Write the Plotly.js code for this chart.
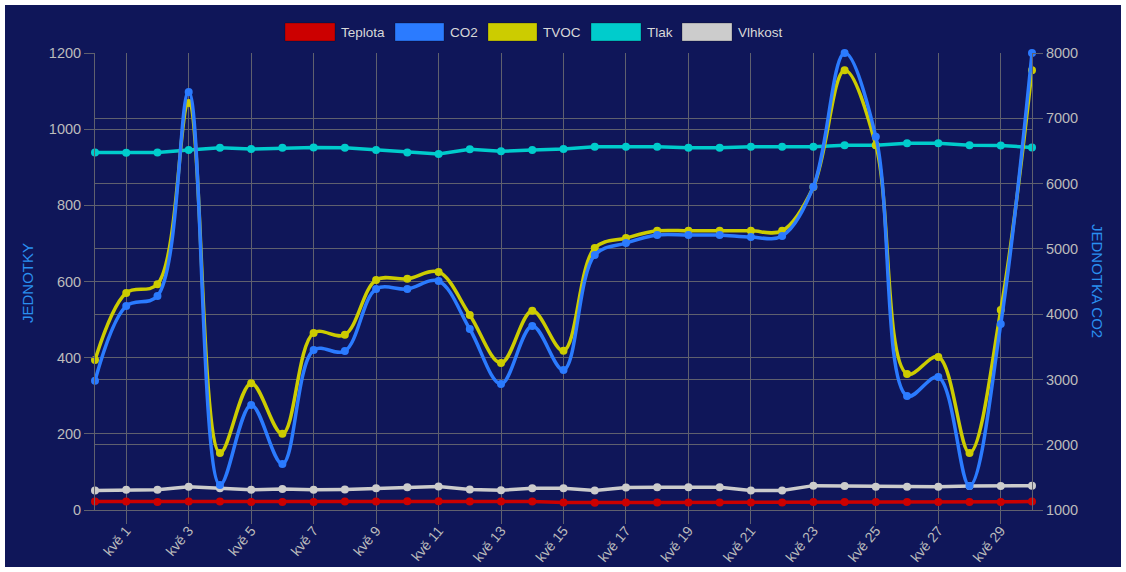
<!DOCTYPE html>
<html>
<head>
<meta charset="utf-8">
<script src="https://cdn.plot.ly/plotly-3.0.1.min.js"></script>
<style>
  html, body { margin: 0; padding: 0; background: #ffffff; }
  #chart { position: absolute; left: 5px; top: 5px; width: 1116px; height: 562px; background: #0f1659; }
</style>
</head>
<body>
<div id="chart"></div>
<script>
// ---- data ----
const categories = ['dub 30','kvě 1','kvě 2','kvě 3','kvě 4','kvě 5','kvě 6','kvě 7','kvě 8','kvě 9','kvě 10',
  'kvě 11','kvě 12','kvě 13','kvě 14','kvě 15','kvě 16','kvě 17','kvě 18','kvě 19','kvě 20',
  'kvě 21','kvě 22','kvě 23','kvě 24','kvě 25','kvě 26','kvě 27','kvě 28','kvě 29','kvě 30'];
const tickLabels = ['kvě 1','kvě 3','kvě 5','kvě 7','kvě 9','kvě 11','kvě 13','kvě 15',
  'kvě 17','kvě 19','kvě 21','kvě 23','kvě 25','kvě 27','kvě 29'];

const teplota = [22,22,21,22,22,21,21,21,22,22,23,23,22,22,22,20,19,20,20,20,20,20,20,21,21,21,21,21,21,21,22];
const co2     = [2980,4124,4278,7402,1383,2608,1705,3451,3435,4385,4385,4507,3772,2930,3818,3144,
                 4906,5089,5212,5212,5212,5180,5196,5952,8000,6718,2746,3037,1368,3849,8000];
const tvoc    = [394,570,593,1069,150,333,200,465,460,604,607,625,512,386,523,418,
                 688,714,733,733,733,733,733,848,1155,958,357,402,150,525,1155];
const tlak    = [939,938,939,945,951,948,951,952,951,945,939,935,947,942,945,948,
                 954,954,954,951,951,954,954,954,958,958,963,963,958,957,952];
const vlhkost = [51,53,53,61,57,53,55,53,54,57,60,62,54,52,57,57,
                 51,59,60,60,60,51,51,64,63,61,61,61,63,63,64];

const seriesNames = ['Teplota','CO2','TVOC','Tlak','Vlhkost'];
const seriesColors = ['#cc0000','#2b7bff','#cccc00','#00cccc','#cccccc'];

// ---- layout geometry (container coords) ----
const W = 1116, H = 562;
const M = { l: 90, r: 89, t: 48, b: 57 };
const plotW = W - M.l - M.r, plotH = H - M.t - M.b;
// convert page pixel (screenshot) to paper coords; container offset 5px
const px = v => (v - 5 - M.l) / plotW;
const py = v => (H - M.b - (v - 5)) / plotH;

function mk(name, y, color, axis, smooth) {
  return {
    type: 'scatter', mode: 'lines+markers', name: name,
    x: categories, y: y, yaxis: axis,
    line: { color: color, width: 3.5, shape: smooth ? 'spline' : 'linear', smoothing: 1 },
    marker: { color: color, size: 8 },
    showlegend: false, cliponaxis: false
  };
}

const traces = [
  mk('Vlhkost', vlhkost, seriesColors[4], 'y', false),
  mk('Tlak', tlak, seriesColors[3], 'y', false),
  mk('TVOC', tvoc, seriesColors[2], 'y', true),
  mk('Teplota', teplota, seriesColors[0], 'y', false),
  mk('CO2', co2, seriesColors[1], 'y2', true)
];

const FONT = 'Liberation Sans, Arial, sans-serif';

// custom legend (boxes + labels)
const legendBoxes = [[285,335],[395,444],[488,537],[591,641],[682,732]];
const shapes = [], annotations = [];
seriesNames.forEach((n, i) => {
  const [x0, x1] = legendBoxes[i];
  shapes.push({ type: 'rect', xref: 'paper', yref: 'paper',
    x0: px(x0), x1: px(x1), y0: py(41), y1: py(23),
    fillcolor: seriesColors[i], line: { color: 'rgba(0,0,0,0.25)', width: 1 } });
  annotations.push({ xref: 'paper', yref: 'paper', x: px(x1 + 4), y: py(32),
    xanchor: 'left', yanchor: 'middle', showarrow: false, text: n,
    font: { family: FONT, size: 13.5, color: '#d8d8d8' } });
});
annotations.push({ xref: 'paper', yref: 'paper', x: px(27), y: py(283), textangle: -90,
  xanchor: 'center', yanchor: 'middle', showarrow: false, text: 'JEDNOTKY',
  font: { family: FONT, size: 15, color: '#2a8ff0' } });
annotations.push({ xref: 'paper', yref: 'paper', x: px(1098), y: py(281), textangle: 90,
  xanchor: 'center', yanchor: 'middle', showarrow: false, text: 'JEDNOTKA CO2',
  font: { family: FONT, size: 15, color: '#2a8ff0' } });

const gridC = '#5f606e';
const tickFont = { family: FONT, size: 14.5, color: '#bcbcbc' };

const layout = {
  width: W, height: H, margin: M,
  paper_bgcolor: '#0f1659', plot_bgcolor: '#0f1659',
  showlegend: false,
  xaxis: {
    type: 'category', categoryarray: categories, range: [0, categories.length - 1],
    tickmode: 'array', tickvals: tickLabels, ticktext: tickLabels,
    tickangle: -50, tickfont: { family: FONT, size: 14, color: '#bcbcbc' },
    ticklabelstandoff: -7,
    showgrid: true, gridcolor: gridC, gridwidth: 1,
    ticks: 'outside', ticklen: 13, tickcolor: gridC,
    showline: true, linecolor: gridC, zeroline: false, fixedrange: true
  },
  yaxis: {
    range: [0, 1200], dtick: 200, tick0: 0, tickfont: tickFont,
    showgrid: true, gridcolor: gridC, ticks: 'outside', ticklen: 10, tickcolor: gridC,
    showline: true, linecolor: gridC, zeroline: false, fixedrange: true
  },
  yaxis2: {
    range: [1000, 8000], dtick: 1000, tick0: 1000, overlaying: 'y', side: 'right',
    tickfont: tickFont, showgrid: true, gridcolor: gridC,
    ticks: 'outside', ticklen: 10, tickcolor: gridC,
    showline: true, linecolor: gridC, zeroline: false, fixedrange: true
  },
  shapes: shapes, annotations: annotations
};

Plotly.newPlot('chart', traces, layout, { displayModeBar: false, staticPlot: true });
</script>
</body>
</html>
